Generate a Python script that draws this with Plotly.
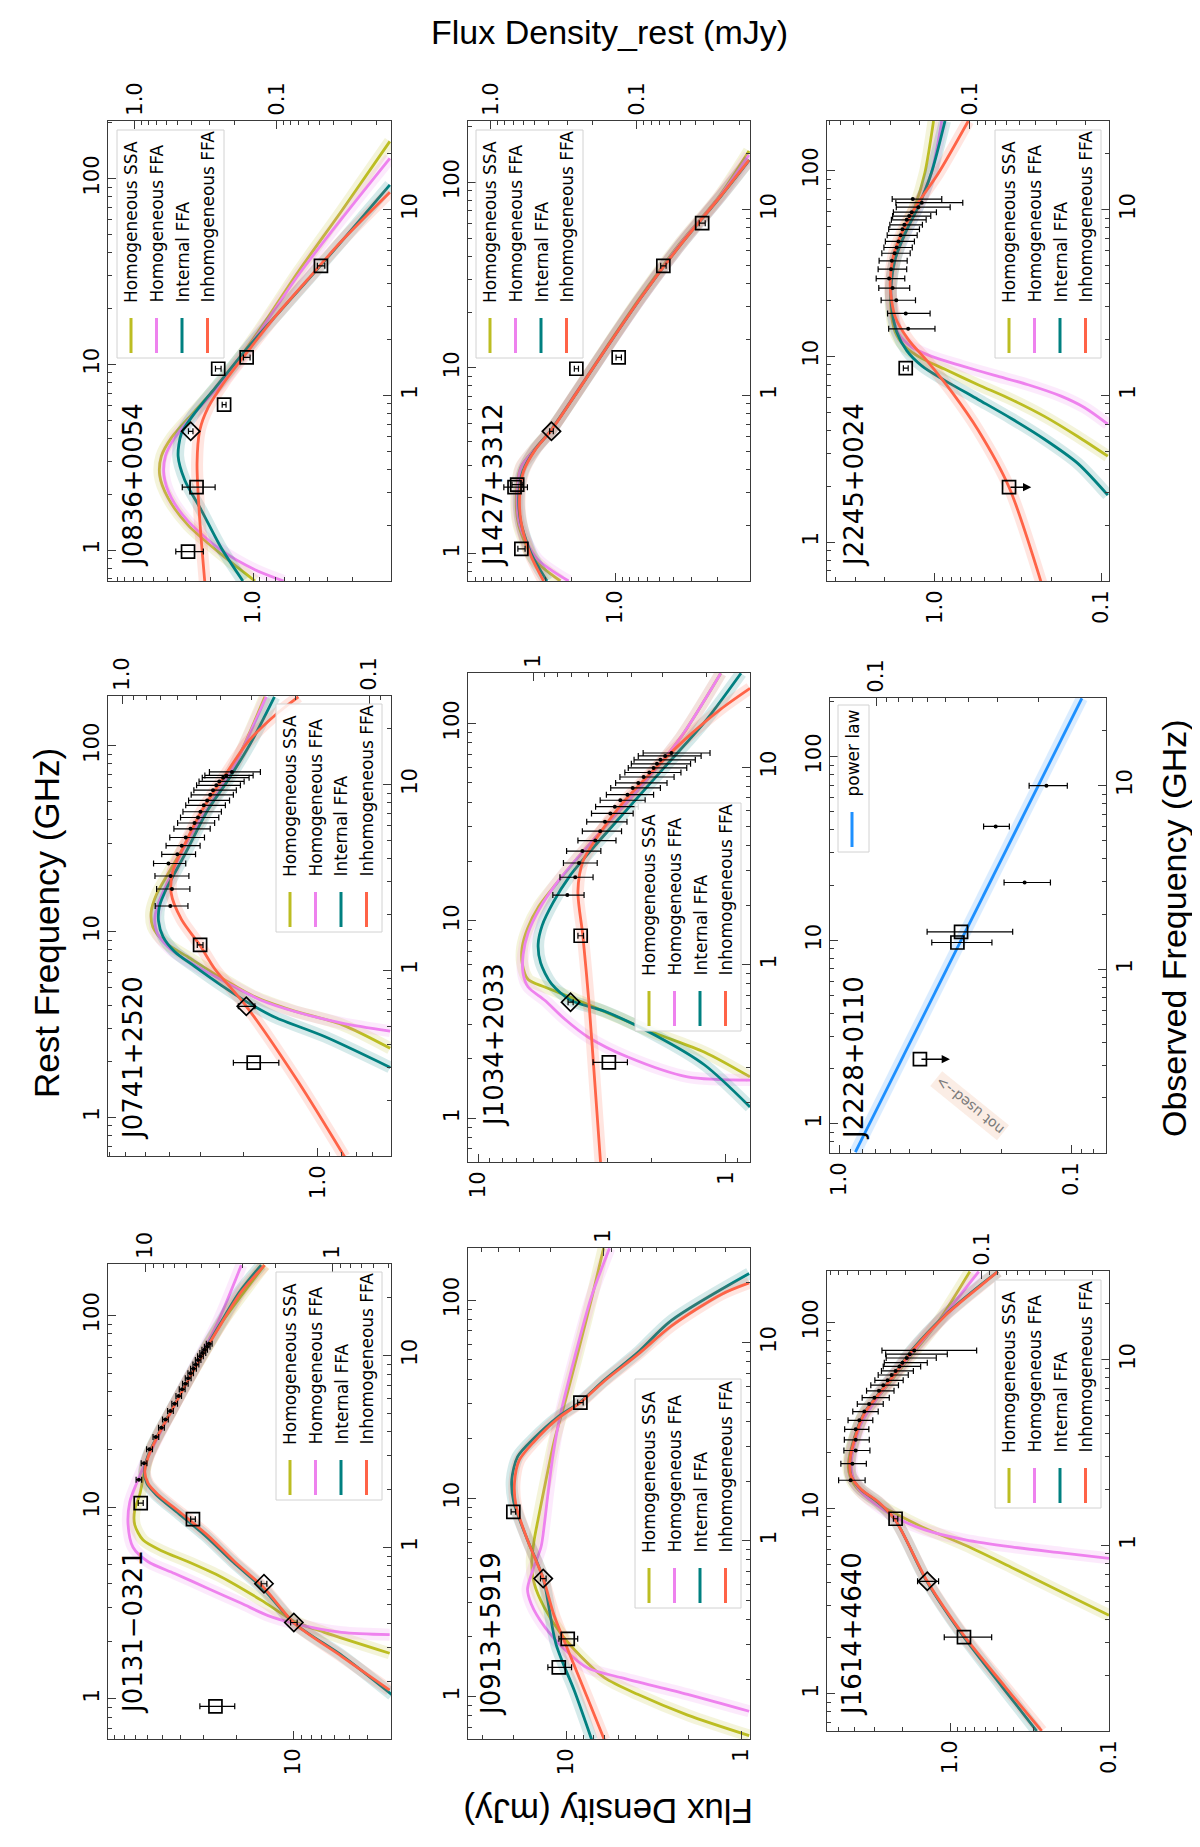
import numpy as np
import plotly.graph_objects as go

W, H = 1200, 1847

# ---------------------------------------------------------------------------
# values (observed frame: frequency in GHz, flux in mJy)
# ---------------------------------------------------------------------------
MODEL_NAMES = ["Homogeneous SSA", "Homogeneous FFA", "Internal FFA", "Inhomogeneous FFA"]
MODEL_COLORS = ["#bcbd22", "#ee82ee", "#008080", "#ff6347"]
NU_OBS_RANGE = [0.1, 30.0]

# J0836+0054
J0836_ZP1 = 6.81
J0836_FLUX_RANGE = [0.107, 10.5]
J0836_SQ_NU = [0.144, 0.32, 0.89, 1.39, 1.6, 4.98]
J0836_SQ_S = [2.87, 2.5, 1.6, 1.76, 1.11, 0.333]
J0836_SQ_E = [0.63, 0.65, 0.05, 0.08, 0.06, 0.02]
J0836_DI_NU = [0.64]
J0836_DI_S = [2.75]
J0836_DI_E = [0.1]
J0836_SSA_NU = [0.1, 0.139, 0.2, 0.28, 0.37, 0.47, 0.59, 0.82, 1.25, 2.2, 4.64, 9.8, 23.3]
J0836_SSA_S = [0.97, 1.67, 2.87, 3.97, 4.54, 4.42, 3.76, 2.58, 1.58, 0.92, 0.48, 0.239, 0.109]
J0836_HFFA_NU = [0.1, 0.115, 0.146, 0.21, 0.28, 0.37, 0.47, 0.59, 0.82, 1.25, 2.2, 4.54, 9.4, 18.9]
J0836_HFFA_S = [0.61, 0.97, 1.67, 2.87, 3.76, 4.24, 4.14, 3.56, 2.51, 1.54, 0.9, 0.47, 0.226, 0.109]
J0836_IFFA_NU = [0.1, 0.15, 0.24, 0.35, 0.47, 0.62, 0.78, 1.09, 1.82, 2.9, 5.35, 13.6]
J0836_IFFA_S = [1.18, 1.67, 2.31, 3.03, 3.37, 3.2, 2.65, 1.86, 1.08, 0.63, 0.31, 0.109]
J0836_INH_NU = [0.1, 0.21, 0.43, 0.65, 0.86, 1.19, 1.74, 2.65, 4.23, 6.75, 12.4]
J0836_INH_S = [2.19, 2.37, 2.48, 2.37, 2.07, 1.58, 1.08, 0.70, 0.41, 0.239, 0.109]

# J1427+3312
J1427_ZP1 = 7.12
J1427_FLUX_RANGE = [0.12, 10.2]
J1427_SQ_NU = [0.149, 0.32, 0.33, 1.39, 1.6, 4.98, 8.45]
J1427_SQ_S = [4.4, 4.9, 4.7, 1.85, 0.95, 0.47, 0.255]
J1427_SQ_E = [0.25, 0.9, 0.4, 0.06, 0.04, 0.02, 0.012]
J1427_DI_NU = [0.64]
J1427_DI_S = [2.74]
J1427_DI_E = [0.08]
J1427_SSA_NU = [0.1, 0.132, 0.2, 0.29, 0.41, 0.51, 0.65, 1.04, 1.82, 3.35, 6.44, 11.8, 20.7]
J1427_SSA_S = [2.38, 3.63, 4.59, 4.76, 4.43, 3.6, 2.76, 1.84, 1.15, 0.68, 0.37, 0.195, 0.122]
J1427_HFFA_NU = [0.1, 0.132, 0.2, 0.29, 0.41, 0.51, 0.65, 1.04, 1.82, 3.35, 6.44, 11.8, 19.7]
J1427_HFFA_S = [2.09, 3.44, 4.52, 4.7, 4.42, 3.58, 2.75, 1.84, 1.14, 0.67, 0.365, 0.193, 0.122]
J1427_IFFA_NU = [0.1, 0.139, 0.21, 0.29, 0.39, 0.51, 0.65, 1.04, 1.82, 3.35, 6.44, 11.8, 18.5]
J1427_IFFA_S = [2.94, 3.75, 4.45, 4.58, 4.3, 3.55, 2.75, 1.83, 1.14, 0.67, 0.36, 0.19, 0.121]
J1427_INH_NU = [0.1, 0.139, 0.21, 0.29, 0.39, 0.51, 0.65, 1.04, 1.82, 3.35, 6.44, 11.8, 18.5]
J1427_INH_S = [3.1, 3.82, 4.43, 4.52, 4.25, 3.53, 2.74, 1.83, 1.14, 0.67, 0.36, 0.191, 0.122]

# J2245+0024
J2245_ZP1 = 6.17
J2245_FLUX_RANGE = [0.0895, 4.47]
J2245_SQ_NU = [1.4]
J2245_SQ_S = [1.5]
J2245_SQ_E = [0.05]
J2245_UL_NU = [0.32]
J2245_UL_S = [0.358]
J2245_UL_END = [0.263]
J2245_DOT_NU = [2.28, 2.76, 3.25, 3.78, 4.25, 4.78, 5.3, 5.82, 6.25, 6.74, 7.27, 7.83, 8.28, 8.81,
                9.23, 9.68, 10.3, 10.9, 11.4]
J2245_DOT_S = [1.45, 1.5, 1.71, 1.8, 1.89, 1.84, 1.82, 1.75, 1.7, 1.66, 1.61, 1.57, 1.53, 1.48,
               1.43, 1.38, 1.26, 1.2, 1.36]
J2245_DOT_E = [0.45, 0.43, 0.4, 0.38, 0.37, 0.36, 0.35, 0.34, 0.33, 0.33, 0.33, 0.33, 0.34, 0.35,
               0.37, 0.4, 0.45, 0.52, 0.45]
J2245_SSA_NU = [0.47, 0.6, 0.77, 0.95, 1.14, 1.38, 1.58, 1.82, 2.2, 2.92, 3.87, 5.38, 7.47, 10.4, 15.8, 30.0]
J2245_SSA_S = [0.091, 0.138, 0.219, 0.347, 0.55, 0.87, 1.2, 1.51, 1.74, 1.84, 1.84, 1.74, 1.55, 1.32, 1.15, 1.02]
J2245_HFFA_NU = [0.7, 0.86, 0.99, 1.14, 1.28, 1.44, 1.62, 1.82, 2.15, 2.79, 3.87, 5.38, 7.47, 10.4, 15.8, 30.0]
J2245_HFFA_S = [0.091, 0.126, 0.174, 0.275, 0.437, 0.69, 1.05, 1.38, 1.66, 1.8, 1.84, 1.74, 1.51, 1.26, 1.05, 0.91]
J2245_IFFA_NU = [0.29, 0.43, 0.58, 0.75, 0.95, 1.2, 1.44, 1.74, 2.2, 2.92, 3.87, 5.38, 7.47, 10.4, 15.8, 30.0]
J2245_IFFA_S = [0.091, 0.138, 0.219, 0.347, 0.55, 0.87, 1.2, 1.48, 1.7, 1.82, 1.84, 1.74, 1.51, 1.26, 1.05, 0.87]
J2245_INH_NU = [0.098, 0.32, 0.65, 1.04, 1.51, 2.0, 2.66, 3.87, 5.64, 7.83, 10.9, 15.8, 30.0]
J2245_INH_S = [0.229, 0.358, 0.55, 0.79, 1.1, 1.45, 1.74, 1.86, 1.78, 1.55, 1.26, 0.95, 0.63]

# J0741+2520
J0741_ZP1 = 6.19
J0741_FLUX_RANGE = [0.506, 7.08]
J0741_SQ_NU = [0.318, 1.37]
J0741_SQ_S = [1.82, 3.0]
J0741_SQ_E = [0.38, 0.08]
J0741_DI_NU = [0.64]
J0741_DI_S = [1.95]
J0741_DI_E = [0.15]
J0741_DOT_NU = [2.22, 2.74, 3.22, 3.76, 4.21, 4.69, 5.19, 5.78, 6.21, 6.65, 7.14, 7.73, 8.22, 8.81,
                9.33, 9.91, 10.4, 10.9, 11.2, 11.7]
J0741_DOT_S = [3.96, 3.9, 3.95, 4.03, 3.71, 3.56, 3.43, 3.28, 3.16, 3.06, 2.99, 2.9, 2.81, 2.73,
               2.66, 2.58, 2.51, 2.42, 2.35, 2.23]
J0741_DOT_E = [0.6, 0.6, 0.62, 0.6, 0.58, 0.56, 0.55, 0.55, 0.54, 0.54, 0.53, 0.53, 0.53, 0.53,
               0.52, 0.52, 0.52, 0.52, 0.52, 0.52]
J0741_SSA_NU = [0.38, 0.51, 0.61, 0.72, 0.91, 1.18, 1.42, 1.71, 2.07, 2.55, 3.3, 5.03, 8.02, 12.8, 29.7]
J0741_SSA_S = [0.51, 0.8, 1.28, 1.8, 2.46, 3.36, 4.18, 4.66, 4.73, 4.51, 4.05, 3.36, 2.7, 2.17, 1.64]
J0741_HFFA_NU = [0.47, 0.52, 0.6, 0.69, 0.85, 1.07, 1.29, 1.56, 1.88, 2.27, 3.0, 5.03, 8.02, 12.8, 29.7]
J0741_HFFA_S = [0.51, 0.8, 1.24, 1.7, 2.31, 3.16, 3.93, 4.44, 4.58, 4.44, 4.05, 3.36, 2.7, 2.17, 1.62]
J0741_IFFA_NU = [0.30, 0.44, 0.56, 0.67, 0.83, 1.05, 1.26, 1.52, 1.84, 2.22, 2.74, 4.17, 7.31, 10.6, 17.0, 29.7]
J0741_IFFA_S = [0.51, 0.94, 1.5, 1.92, 2.46, 3.16, 3.8, 4.24, 4.42, 4.38, 4.11, 3.47, 2.79, 2.31, 1.86, 1.5]
J0741_INH_NU = [0.099, 0.25, 0.64, 1.02, 1.36, 1.88, 2.61, 3.46, 4.37, 7.14, 11.1, 17.0, 23.5, 29.7]
J0741_INH_S = [0.78, 1.2, 1.95, 2.62, 3.0, 3.57, 3.93, 3.86, 3.57, 2.97, 2.39, 1.92, 1.5, 1.2]

# J1034+2033
J1034_ZP1 = 6.01
J1034_FLUX_RANGE = [0.8, 11.0]
J1034_SQ_NU = [0.32, 1.4]
J1034_SQ_S = [2.97, 3.86]
J1034_SQ_E = [0.47, 0.1]
J1034_DI_NU = [0.645]
J1034_DI_S = [4.24]
J1034_DI_E = [0.1]
J1034_DOT_NU = [2.25, 2.77, 3.27, 3.76, 4.25, 4.74, 5.29, 5.83, 6.31, 6.8, 7.26, 7.85, 8.32, 8.92,
                9.4, 9.91, 10.4, 10.9, 11.4, 11.8]
J1034_DOT_S = [4.37, 4.06, 3.92, 3.8, 3.37, 3.22, 3.08, 2.93, 2.81, 2.67, 2.5, 2.38, 2.26, 2.15,
               2.04, 1.96, 1.9, 1.84, 1.76, 1.66]
J1034_DOT_E = [0.63, 0.62, 0.61, 0.6, 0.59, 0.58, 0.57, 0.56, 0.55, 0.55, 0.54, 0.54, 0.53, 0.53,
               0.52, 0.52, 0.51, 0.51, 0.5, 0.5]
J1034_SSA_NU = [0.27, 0.36, 0.45, 0.55, 0.67, 0.77, 0.84, 1.02, 1.22, 1.52, 1.97, 2.57, 3.49, 5.18, 8.39, 14.2, 29.9]
J1034_SSA_S = [0.8, 1.22, 1.94, 2.82, 4.08, 5.39, 6.29, 6.65, 6.65, 6.33, 5.7, 4.84, 3.96, 3.0, 2.13, 1.52, 1.05]
J1034_HFFA_NU = [0.26, 0.27, 0.34, 0.43, 0.53, 0.66, 0.77, 0.9, 1.12, 1.45, 1.93, 2.57, 3.49, 5.18, 8.39, 14.2, 29.9]
J1034_HFFA_S = [0.8, 1.43, 2.49, 3.61, 4.48, 5.39, 6.29, 6.59, 6.59, 6.29, 5.64, 4.84, 3.96, 3.0, 2.13, 1.52, 1.05]
J1034_IFFA_NU = [0.19, 0.31, 0.44, 0.58, 0.66, 0.8, 1.02, 1.27, 1.58, 2.06, 2.8, 3.98, 6.17, 10.0, 16.9, 29.9]
J1034_IFFA_S = [0.8, 1.22, 1.94, 3.09, 4.24, 5.07, 5.6, 5.73, 5.52, 4.99, 4.28, 3.39, 2.49, 1.77, 1.22, 0.87]
J1034_INH_NU = [0.1, 0.26, 0.63, 1.39, 2.35, 3.34, 4.35, 6.45, 9.78, 14.2, 19.7, 25.1]
J1034_INH_S = [3.21, 3.39, 3.57, 3.78, 3.96, 3.78, 3.34, 2.65, 1.94, 1.43, 1.05, 0.8]

# J2228+0110 (power law only)
J2228_ZP1 = 6.95
J2228_FLUX_RANGE = [0.0708, 1.1]
J2228_SQ_NU = [1.4, 1.6]
J2228_SQ_S = [0.31, 0.299]
J2228_SQ_E = [0.09, 0.12]
J2228_UL_NU = [0.324]
J2228_UL_S = [0.45]
J2228_UL_END = [0.334]
J2228_DOT_NU = [2.97, 6.0, 10.0]
J2228_DOT_S = [0.159, 0.212, 0.128]
J2228_DOT_E = [0.036, 0.027, 0.024]
J2228_PL_NU = [0.101, 29.9]
J2228_PL_S = [0.855, 0.09]

# J0131-0321
J0131_ZP1 = 6.18
J0131_FLUX_RANGE = [2.99, 97.7]
J0131_SQ_NU = [0.148, 1.4, 1.7]
J0131_SQ_S = [26.0, 34.3, 65.3]
J0131_SQ_E = [5.5, 1.0, 2.0]
J0131_DI_NU = [0.405, 0.645]
J0131_DI_S = [9.9, 14.3]
J0131_DI_E = [0.4, 0.5]
J0131_DOT_NU = [2.25, 2.74, 3.24, 3.76, 4.2, 4.64, 5.13, 5.61, 6.14, 6.66, 7.13, 7.62, 8.09, 8.54,
                8.97, 9.47, 9.91, 10.3, 10.7, 11.1, 11.5]
J0131_DOT_S = [66.8, 62.7, 58.6, 54.2, 50.6, 48.2, 45.3, 43.0, 40.9, 39.2, 37.7, 36.4, 35.3, 34.1,
               33.1, 32.2, 31.3, 30.4, 29.7, 28.8, 28.1]
J0131_DOT_E = [2.3, 2.2, 2.1, 1.9, 1.8, 1.7, 1.6, 1.5, 1.4, 1.4, 1.3, 1.3, 1.2, 1.2,
               1.2, 1.1, 1.1, 1.1, 1.0, 1.0, 1.0]
J0131_SSA_NU = [0.28, 0.36, 0.41, 0.53, 0.70, 0.84, 0.96, 1.09, 1.31, 1.57, 1.88, 2.96, 5.13, 8.54, 14.7, 29.6]
J0131_SSA_S = [3.04, 6.8, 9.8, 14.8, 24.2, 36.4, 50.6, 63.4, 70.3, 70.3, 66.1, 59.6, 44.8, 33.6, 24.2, 14.2]
J0131_HFFA_NU = [0.35, 0.36, 0.40, 0.44, 0.51, 0.61, 0.73, 0.84, 1.0, 1.31, 1.72, 2.15, 2.96, 5.13, 8.7, 15.0, 29.6]
J0131_HFFA_S = [3.04, 5.5, 9.8, 13.6, 18.9, 28.5, 43.0, 59.6, 71.8, 76.3, 74.7, 68.8, 59.6, 44.8, 33.6, 25.2, 18.9]
J0131_IFFA_NU = [0.17, 0.27, 0.40, 0.61, 0.84, 1.15, 1.5, 1.88, 2.15, 2.47, 2.96, 3.7, 5.13, 8.54, 14.7, 21.5, 29.6]
J0131_IFFA_S = [2.95, 5.4, 9.8, 14.5, 21.0, 29.5, 41.0, 54.0, 60.5, 62.5, 60.0, 54.0, 45.0, 33.8, 24.5, 19.3, 14.8]
J0131_INH_NU = [0.18, 0.27, 0.40, 0.61, 0.84, 1.15, 1.5, 1.88, 2.15, 2.47, 2.96, 3.7, 5.13, 8.54, 14.7, 21.5, 29.6]
J0131_INH_S = [3.04, 5.5, 9.8, 14.2, 20.5, 28.5, 39.5, 52.7, 59.6, 62.1, 59.6, 53.8, 44.8, 33.6, 24.2, 18.9, 14.2]

# J0913+5919
J0913_ZP1 = 6.11
J0913_FLUX_RANGE = [0.89, 36.3]
J0913_SQ_NU = [0.23, 0.32, 1.4, 4.98]
J0913_SQ_S = [11.0, 9.78, 20.0, 8.28]
J0913_SQ_E = [1.7, 1.2, 0.6, 0.3]
J0913_DI_NU = [0.645]
J0913_DI_S = [13.5]
J0913_DI_E = [0.5]
J0913_SSA_NU = [0.104, 0.132, 0.168, 0.204, 0.26, 0.34, 0.46, 0.61, 0.78, 1.01, 1.38, 2.04, 3.17, 4.91, 9.5, 17.5, 29.9]
J0913_SSA_S = [0.9, 2.02, 3.9, 6.04, 8.2, 10.7, 13.3, 15.2, 15.7, 15.2, 14.2, 13.0, 11.7, 10.2, 8.39, 7.05, 6.1]
J0913_HFFA_NU = [0.138, 0.168, 0.204, 0.228, 0.284, 0.37, 0.48, 0.57, 0.71, 0.93, 1.21, 1.71, 2.66, 4.12, 8.32, 16.8, 29.9]
J0913_HFFA_S = [0.9, 2.02, 4.85, 7.52, 10.2, 13.3, 15.8, 16.6, 15.5, 13.9, 13.3, 12.7, 11.9, 10.9, 8.96, 7.2, 5.65]
J0913_IFFA_NU = [0.099, 0.175, 0.3, 0.645, 1.01, 1.57, 2.04, 2.66, 3.3, 4.2, 4.98, 6.5, 8.9, 12.9, 22.3]
J0913_IFFA_S = [7.13, 8.96, 11.4, 13.5, 16.6, 19.9, 20.4, 18.9, 15.2, 11.2, 8.4, 6.0, 3.9, 2.51, 0.9]
J0913_INH_NU = [0.099, 0.16, 0.27, 0.42, 0.645, 1.01, 1.5, 1.96, 2.55, 3.17, 4.12, 4.98, 6.4, 8.69, 12.1, 17.5, 20.0]
J0913_INH_S = [6.04, 7.52, 9.57, 11.7, 13.5, 16.6, 19.3, 19.7, 18.5, 15.2, 11.2, 8.28, 6.04, 3.9, 2.51, 1.3, 0.9]

# J1614+4640
J1614_ZP1 = 6.31
J1614_FLUX_RANGE = [0.1, 5.94]
J1614_SQ_NU = [0.32, 1.39]
J1614_SQ_S = [0.817, 2.2]
J1614_SQ_E = [0.27, 0.07]
J1614_DI_NU = [0.64]
J1614_DI_S = [1.39]
J1614_DI_E = [0.21]
J1614_DOT_NU = [2.24, 2.75, 3.24, 3.7, 4.21, 4.71, 5.25, 5.76, 6.24, 6.79, 7.28, 7.73, 8.26, 8.69,
                9.19, 9.63, 10.2, 10.7, 11.2]
J1614_DOT_S = [4.22, 4.11, 3.92, 3.92, 3.92, 3.72, 3.46, 3.23, 2.99, 2.8, 2.63, 2.47, 2.33, 2.2,
               2.08, 1.99, 1.87, 1.79, 1.68]
J1614_DOT_E = [0.8, 0.75, 0.73, 0.7, 0.68, 0.66, 0.63, 0.6, 0.58, 0.55, 0.52, 0.5, 0.5, 0.5,
               0.55, 0.6, 0.65, 0.75, 1.0]
J1614_SSA_NU = [0.42, 0.56, 0.76, 1.0, 1.26, 1.52, 1.79, 2.16, 2.61, 3.29, 4.78, 6.31, 10.6, 16.1, 29.8]
J1614_SSA_S = [0.1, 0.199, 0.41, 0.8, 1.51, 2.33, 3.26, 4.06, 4.36, 4.2, 3.6, 2.82, 1.74, 1.18, 0.75]
J1614_HFFA_NU = [0.85, 0.91, 0.98, 1.07, 1.21, 1.39, 1.67, 2.02, 2.49, 3.14, 4.56, 6.33, 10.8, 17.7, 29.8]
J1614_HFFA_S = [0.1, 0.199, 0.41, 0.8, 1.44, 2.11, 2.96, 3.77, 4.15, 4.11, 3.6, 2.82, 1.74, 1.07, 0.66]
J1614_IFFA_NU = [0.1, 0.173, 0.326, 0.64, 1.36, 1.71, 1.99, 2.37, 2.86, 3.79, 5.13, 6.48, 8.37, 11.1, 17.3, 24.5, 29.8]
J1614_IFFA_S = [0.285, 0.47, 0.83, 1.4, 2.2, 2.85, 3.62, 4.2, 4.26, 3.98, 3.48, 2.84, 2.24, 1.76, 1.08, 0.67, 0.5]
J1614_INH_NU = [0.1, 0.173, 0.326, 0.64, 1.36, 1.71, 1.99, 2.37, 2.86, 3.79, 5.13, 6.48, 8.37, 11.1, 17.3, 24.5, 29.8]
J1614_INH_S = [0.265, 0.45, 0.817, 1.39, 2.2, 2.82, 3.6, 4.2, 4.26, 3.96, 3.46, 2.82, 2.22, 1.74, 1.07, 0.66, 0.5]

# ---------------------------------------------------------------------------
# panel table (box = pixel frame of the axes in the rotated page)
# ---------------------------------------------------------------------------
panels = [
    dict(name="J0836+0054", zp1=J0836_ZP1, flux=J0836_FLUX_RANGE, box=(100, 383, 113, 573),
         bot=([1], ["1.0"]), top=([1, 0.1], ["1.0", "0.1"]),
         models=[(J0836_SSA_NU, J0836_SSA_S), (J0836_HFFA_NU, J0836_HFFA_S),
                 (J0836_IFFA_NU, J0836_IFFA_S), (J0836_INH_NU, J0836_INH_S)],
         sq=(J0836_SQ_NU, J0836_SQ_S, J0836_SQ_E), di=(J0836_DI_NU, J0836_DI_S, J0836_DI_E),
         legend=(109, 216, 122, 350), label=(125, 561)),
    dict(name="J1427+3312", zp1=J1427_ZP1, flux=J1427_FLUX_RANGE, box=(460, 742, 113, 573),
         bot=([1], ["1.0"]), top=([1, 0.1], ["1.0", "0.1"]),
         models=[(J1427_SSA_NU, J1427_SSA_S), (J1427_HFFA_NU, J1427_HFFA_S),
                 (J1427_IFFA_NU, J1427_IFFA_S), (J1427_INH_NU, J1427_INH_S)],
         sq=(J1427_SQ_NU, J1427_SQ_S, J1427_SQ_E), di=(J1427_DI_NU, J1427_DI_S, J1427_DI_E),
         legend=(468, 575, 122, 350), label=(485, 561)),
    dict(name="J2245+0024", zp1=J2245_ZP1, flux=J2245_FLUX_RANGE, box=(819, 1101, 113, 573),
         bot=([1, 0.1], ["1.0", "0.1"]), top=([0.1], ["0.1"]),
         models=[(J2245_SSA_NU, J2245_SSA_S), (J2245_HFFA_NU, J2245_HFFA_S),
                 (J2245_IFFA_NU, J2245_IFFA_S), (J2245_INH_NU, J2245_INH_S)],
         sq=(J2245_SQ_NU, J2245_SQ_S, J2245_SQ_E), dots=(J2245_DOT_NU, J2245_DOT_S, J2245_DOT_E),
         ul=(J2245_UL_NU, J2245_UL_S, J2245_UL_END),
         legend=(987, 1093, 122, 350), label=(846, 561)),
    dict(name="J0741+2520", zp1=J0741_ZP1, flux=J0741_FLUX_RANGE, box=(100, 383, 688, 1148),
         bot=([1], ["1.0"]), top=([1, 0.1], ["1.0", "0.1"]),
         models=[(J0741_SSA_NU, J0741_SSA_S), (J0741_HFFA_NU, J0741_HFFA_S),
                 (J0741_IFFA_NU, J0741_IFFA_S), (J0741_INH_NU, J0741_INH_S)],
         sq=(J0741_SQ_NU, J0741_SQ_S, J0741_SQ_E), di=(J0741_DI_NU, J0741_DI_S, J0741_DI_E),
         dots=(J0741_DOT_NU, J0741_DOT_S, J0741_DOT_E),
         legend=(268, 374, 696, 924), label=(125, 1134)),
    dict(name="J1034+2033", zp1=J1034_ZP1, flux=J1034_FLUX_RANGE, box=(460, 742, 665, 1154),
         bot=([10, 1], ["10", "1"]), top=([1], ["1"]),
         models=[(J1034_SSA_NU, J1034_SSA_S), (J1034_HFFA_NU, J1034_HFFA_S),
                 (J1034_IFFA_NU, J1034_IFFA_S), (J1034_INH_NU, J1034_INH_S)],
         sq=(J1034_SQ_NU, J1034_SQ_S, J1034_SQ_E), di=(J1034_DI_NU, J1034_DI_S, J1034_DI_E),
         dots=(J1034_DOT_NU, J1034_DOT_S, J1034_DOT_E),
         legend=(627, 733, 795, 1023), label=(486, 1121)),
    dict(name="J2228+0110", zp1=J2228_ZP1, flux=J2228_FLUX_RANGE, box=(822, 1098, 690, 1145),
         bot=([1, 0.1], ["1.0", "0.1"]), top=([0.1], ["0.1"]),
         powerlaw=(J2228_PL_NU, J2228_PL_S),
         sq=(J2228_SQ_NU, J2228_SQ_S, J2228_SQ_E), dots=(J2228_DOT_NU, J2228_DOT_S, J2228_DOT_E),
         ul=(J2228_UL_NU, J2228_UL_S, J2228_UL_END),
         legend=(830, 861, 697, 844), label=(846, 1134)),
    dict(name="J0131\u22120321", zp1=J0131_ZP1, flux=J0131_FLUX_RANGE, box=(100, 383, 1256, 1731),
         bot=([10], ["10"]), top=([10, 1], ["10", "1"]),
         models=[(J0131_SSA_NU, J0131_SSA_S), (J0131_HFFA_NU, J0131_HFFA_S),
                 (J0131_IFFA_NU, J0131_IFFA_S), (J0131_INH_NU, J0131_INH_S)],
         sq=(J0131_SQ_NU, J0131_SQ_S, J0131_SQ_E), di=(J0131_DI_NU, J0131_DI_S, J0131_DI_E),
         dots=(J0131_DOT_NU, J0131_DOT_S, J0131_DOT_E),
         legend=(268, 374, 1264, 1492), label=(125, 1708)),
    dict(name="J0913+5919", zp1=J0913_ZP1, flux=J0913_FLUX_RANGE, box=(460, 742, 1240, 1731),
         bot=([10, 1], ["10", "1"]), top=([1], ["1"]),
         models=[(J0913_SSA_NU, J0913_SSA_S), (J0913_HFFA_NU, J0913_HFFA_S),
                 (J0913_IFFA_NU, J0913_IFFA_S), (J0913_INH_NU, J0913_INH_S)],
         sq=(J0913_SQ_NU, J0913_SQ_S, J0913_SQ_E), di=(J0913_DI_NU, J0913_DI_S, J0913_DI_E),
         legend=(627, 733, 1371, 1600), label=(483, 1710)),
    dict(name="J1614+4640", zp1=J1614_ZP1, flux=J1614_FLUX_RANGE, box=(819, 1101, 1263, 1723),
         bot=([1, 0.1], ["1.0", "0.1"]), top=([0.1], ["0.1"]),
         models=[(J1614_SSA_NU, J1614_SSA_S), (J1614_HFFA_NU, J1614_HFFA_S),
                 (J1614_IFFA_NU, J1614_IFFA_S), (J1614_INH_NU, J1614_INH_S)],
         sq=(J1614_SQ_NU, J1614_SQ_S, J1614_SQ_E), di=(J1614_DI_NU, J1614_DI_S, J1614_DI_E),
         dots=(J1614_DOT_NU, J1614_DOT_S, J1614_DOT_E),
         legend=(987, 1093, 1272, 1500), label=(844, 1710)),
]


def px(x):
    return x / W


def py(y):
    return 1 - y / H


MINOR_VALS = [d * 10.0 ** e for e in range(-3, 3) for d in range(2, 10)]
AXIS_COLOR = "#3a3a3a"
AX = dict(
    type="log", showline=True, linecolor=AXIS_COLOR, linewidth=1.2,
    ticks="inside", ticklen=8, tickwidth=1, tickcolor=AXIS_COLOR,
    showgrid=False, zeroline=False, automargin=False, tickangle=-90,
    tickmode="array",
    tickfont=dict(family="DejaVu Sans", size=21, color="black"),
    minor=dict(tickmode="array", tickvals=MINOR_VALS, ticks="inside", ticklen=4,
               tickwidth=0.8, tickcolor=AXIS_COLOR, showgrid=False),
)
ERR = dict(type="data", color="black", thickness=1.2, width=3)
LEGEND_COLOR_PL = "#1e90ff"

fig = go.Figure()
annotations = []
shapes = []

for k, p in enumerate(panels, start=1):
    x0, x1, y0, y1 = p["box"]
    lz = np.log10(p["zp1"])
    flo, fhi = np.log10(p["flux"])
    nlo, nhi = np.log10(NU_OBS_RANGE)
    xa, ya = f"x{k}", f"y{k}"
    fig.update_layout({
        f"xaxis{k}": dict(AX, domain=[px(x0), px(x1)], range=[fhi, flo], anchor=ya, side="bottom",
                          tickvals=p["bot"][0], ticktext=p["bot"][1]),
        f"xaxis{k + 9}": dict(AX, domain=[px(x0), px(x1)], range=[fhi - lz, flo - lz], anchor=ya,
                              overlaying=xa, side="top", tickvals=p["top"][0], ticktext=p["top"][1]),
        f"yaxis{k}": dict(AX, domain=[py(y1), py(y0)], range=[nlo, nhi], anchor=xa, side="right",
                          tickvals=[1, 10], ticktext=["1", "10"]),
        f"yaxis{k + 9}": dict(AX, domain=[py(y1), py(y0)], range=[nlo + lz, nhi + lz], anchor=xa,
                              overlaying=ya, side="left", tickvals=[1, 10, 100], ticktext=["1", "10", "100"]),
    })
    # empty trace so the rest-frame twin axes get drawn
    fig.add_trace(go.Scatter(x=[None], y=[None], xaxis=f"x{k + 9}", yaxis=f"y{k + 9}",
                             showlegend=False, hoverinfo="skip"))

    # model curves: soft band + solid line (flux runs along the horizontal axis)
    if "models" in p:
        curve_list = list(zip(p["models"], MODEL_COLORS))
    else:
        curve_list = [(p["powerlaw"], LEGEND_COLOR_PL)]
    for (nu, s), col in curve_list:
        fig.add_trace(go.Scatter(x=s, y=nu, xaxis=xa, yaxis=ya, mode="lines", opacity=0.16,
                                 line=dict(color=col, width=12, shape="spline", smoothing=0.8),
                                 showlegend=False, hoverinfo="skip"))
        fig.add_trace(go.Scatter(x=s, y=nu, xaxis=xa, yaxis=ya, mode="lines",
                                 line=dict(color=col, width=2.8, shape="spline", smoothing=0.8),
                                 showlegend=False))

    # measurements
    if "dots" in p:
        nu, s, e = p["dots"]
        fig.add_trace(go.Scatter(x=s, y=nu, xaxis=xa, yaxis=ya, mode="markers",
                                 marker=dict(symbol="circle", size=4, color="black"),
                                 error_x=dict(ERR, array=e), showlegend=False))
    if "sq" in p:
        nu, s, e = p["sq"]
        fig.add_trace(go.Scatter(x=s, y=nu, xaxis=xa, yaxis=ya, mode="markers",
                                 marker=dict(symbol="square-open", size=13, color="black",
                                             line=dict(width=1.7, color="black")),
                                 error_x=dict(ERR, array=e), showlegend=False))
    if "di" in p:
        nu, s, e = p["di"]
        fig.add_trace(go.Scatter(x=s, y=nu, xaxis=xa, yaxis=ya, mode="markers",
                                 marker=dict(symbol="diamond-open", size=14, color="black",
                                             line=dict(width=1.7, color="black")),
                                 error_x=dict(ERR, array=e), showlegend=False))
    if "ul" in p:
        nu, s, s_end = p["ul"]
        fig.add_trace(go.Scatter(x=s, y=nu, xaxis=xa, yaxis=ya, mode="markers",
                                 marker=dict(symbol="square-open", size=13, color="black",
                                             line=dict(width=1.7, color="black")),
                                 showlegend=False))
        for n_, a_, b_ in zip(nu, s, s_end):
            annotations.append(dict(x=np.log10(b_), y=np.log10(n_), ax=np.log10(a_), ay=np.log10(n_),
                                    xref=xa, yref=ya, axref=xa, ayref=ya, text="", showarrow=True,
                                    arrowhead=2, arrowsize=1.1, arrowwidth=1.5, arrowcolor="black"))

    # source name
    lx, ly = p["label"]
    annotations.append(dict(x=px(lx), y=py(ly), xref="paper", yref="paper", text=p["name"],
                            textangle=-90, showarrow=False, xanchor="center", yanchor="bottom",
                            font=dict(family="DejaVu Sans", size=26, color="black")))

    # hand-drawn legend (rotated like the rest of the page)
    bx0, bx1, by0, by1 = p["legend"]
    shapes.append(dict(type="rect", xref="paper", yref="paper", x0=px(bx0), x1=px(bx1),
                       y0=py(by1), y1=py(by0), line=dict(color="#d2d2d2", width=1),
                       fillcolor="rgba(255,255,255,0.85)", layer="above"))
    entries = list(zip(MODEL_NAMES, MODEL_COLORS)) if "models" in p else [("power law", LEGEND_COLOR_PL)]
    for i, (lab, col) in enumerate(entries):
        ex = bx0 + 14 + 25.5 * i
        shapes.append(dict(type="line", xref="paper", yref="paper", x0=px(ex), x1=px(ex),
                           y0=py(by1 - 5), y1=py(by1 - 40), line=dict(color=col, width=3), layer="above"))
        annotations.append(dict(x=px(ex), y=py(by1 - 53), xref="paper", yref="paper", text=lab,
                                textangle=-90, showarrow=False, xanchor="center", yanchor="bottom",
                                font=dict(family="DejaVu Sans", size=17, color="black")))

# note in the power-law panel
annotations.append(dict(x=px(962), y=py(1098), xref="paper", yref="paper", text="not used-->",
                        textangle=-141, showarrow=False, xanchor="center", yanchor="middle",
                        font=dict(family="DejaVu Sans", size=14, color="#7a7a7a"),
                        bgcolor="rgba(250,232,222,0.8)"))

# page titles
TITLE_FONT = "Liberation Sans, Arial, sans-serif"
annotations += [
    dict(x=px(601), y=py(24), xref="paper", yref="paper", text="Flux Density_rest (mJy)",
         showarrow=False, xanchor="center", yanchor="middle",
         font=dict(family=TITLE_FONT, size=34, color="black")),
    dict(x=px(38), y=py(915), xref="paper", yref="paper", text="Rest Frequency (GHz)", textangle=-90,
         showarrow=False, xanchor="center", yanchor="middle",
         font=dict(family=TITLE_FONT, size=35, color="black")),
    dict(x=px(1166), y=py(920), xref="paper", yref="paper", text="Observed Frequency (GHz)", textangle=-90,
         showarrow=False, xanchor="center", yanchor="middle",
         font=dict(family=TITLE_FONT, size=34, color="black")),
    dict(x=px(600), y=py(1804), xref="paper", yref="paper", text="Flux Density (mJy)", textangle=180,
         showarrow=False, xanchor="center", yanchor="middle",
         font=dict(family=TITLE_FONT, size=35, color="black")),
]

fig.update_layout(
    width=W, height=H, autosize=False,
    margin=dict(l=0, r=0, t=0, b=0),
    paper_bgcolor="white", plot_bgcolor="white",
    showlegend=False,
    annotations=annotations, shapes=shapes,
)

fig.write_html("out.html")
